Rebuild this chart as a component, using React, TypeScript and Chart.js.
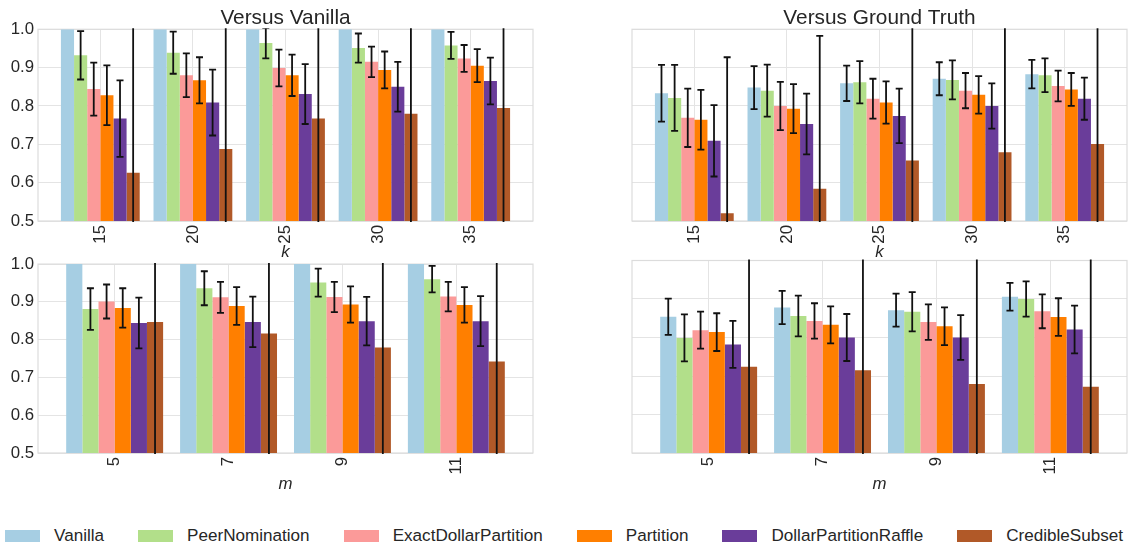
import React, { useEffect, useRef } from 'react';
import { Chart, registerables } from 'chart.js';

Chart.register(...registerables);

// ---------- data ----------
const kCategories = ['15', '20', '25', '30', '35'];
const mCategories = ['5', '7', '9', '11'];
const methodNames = ['Vanilla', 'PeerNomination', 'ExactDollarPartition', 'Partition', 'DollarPartitionRaffle', 'CredibleSubset'];
const methodColors = ['#a6cee3', '#b2df8a', '#fb9a99', '#ff7f00', '#6a3d9a', '#b15928'];
const yTickValues = [0.5, 0.6, 0.7, 0.8, 0.9, 1.0];

// Versus Vanilla, by k (rows = methods)
const kVanillaMeans = [
  [1.0, 1.0, 1.0, 1.0, 1.0],
  [0.932, 0.939, 0.964, 0.951, 0.958],
  [0.844, 0.880, 0.899, 0.915, 0.924],
  [0.828, 0.867, 0.880, 0.894, 0.905],
  [0.767, 0.809, 0.831, 0.850, 0.865],
  [0.626, 0.688, 0.767, 0.780, 0.795],
];
const kVanillaErrs = [
  [0, 0, 0, 0, 0],
  [0.063, 0.055, 0.040, 0.038, 0.035],
  [0.069, 0.057, 0.048, 0.040, 0.035],
  [0.078, 0.060, 0.054, 0.048, 0.043],
  [0.100, 0.086, 0.078, 0.065, 0.061],
  [0.46, 0.44, 0.41, 0.40, 0.38],
];

// Versus Ground Truth, by k
const kTruthMeans = [
  [0.833, 0.848, 0.859, 0.871, 0.883],
  [0.821, 0.840, 0.862, 0.868, 0.880],
  [0.769, 0.800, 0.819, 0.840, 0.852],
  [0.764, 0.793, 0.809, 0.829, 0.843],
  [0.709, 0.753, 0.774, 0.800, 0.819],
  [0.520, 0.584, 0.658, 0.679, 0.701],
];
const kTruthErrs = [
  [0.074, 0.056, 0.046, 0.043, 0.037],
  [0.086, 0.068, 0.055, 0.051, 0.044],
  [0.076, 0.063, 0.052, 0.046, 0.040],
  [0.078, 0.064, 0.055, 0.049, 0.043],
  [0.093, 0.079, 0.071, 0.059, 0.055],
  [0.407, 0.399, 0.40, 0.39, 0.38],
];

// Versus Vanilla, by m
const mVanillaMeans = [
  [1.0, 1.0, 1.0, 1.0],
  [0.881, 0.936, 0.951, 0.960],
  [0.901, 0.912, 0.913, 0.914],
  [0.884, 0.889, 0.893, 0.892],
  [0.844, 0.847, 0.849, 0.849],
  [0.847, 0.816, 0.779, 0.742],
];
const mVanillaErrs = [
  [0, 0, 0, 0],
  [0.055, 0.045, 0.037, 0.035],
  [0.045, 0.041, 0.040, 0.039],
  [0.052, 0.050, 0.048, 0.047],
  [0.067, 0.067, 0.064, 0.066],
  [0.40, 0.41, 0.42, 0.43],
];

// Versus Ground Truth, by m
const mTruthMeans = [
  [0.854, 0.878, 0.871, 0.906],
  [0.799, 0.856, 0.867, 0.900],
  [0.819, 0.843, 0.840, 0.868],
  [0.814, 0.833, 0.829, 0.853],
  [0.782, 0.800, 0.800, 0.821],
  [0.724, 0.715, 0.679, 0.672],
];
const mTruthErrs = [
  [0.047, 0.043, 0.043, 0.036],
  [0.061, 0.053, 0.051, 0.046],
  [0.048, 0.046, 0.046, 0.044],
  [0.049, 0.048, 0.049, 0.049],
  [0.061, 0.061, 0.058, 0.062],
  [0.39, 0.40, 0.41, 0.42],
];

// ---------- styling ----------
const FONT = "'Liberation Sans', Arial, Helvetica, sans-serif";
const TEXT = '#262626';
const GRID = '#e4e4e4';
const FRAME = '#dcdcdc';
const TICK_SIZE = 16.8;

Chart.defaults.font.family = FONT;
Chart.defaults.color = TEXT;

const framePlugin = {
  id: 'frame',
  beforeDatasetsDraw(chart: any) {
    const { ctx, chartArea: a } = chart;
    ctx.save();
    ctx.strokeStyle = FRAME;
    ctx.lineWidth = 1.2;
    ctx.strokeRect(a.left, a.top, a.right - a.left, a.bottom - a.top);
    ctx.restore();
  },
};

const errorBarPlugin = {
  id: 'errorBars',
  afterDatasetsDraw(chart: any) {
    const { ctx, chartArea: a } = chart;
    const yScale = chart.scales.y;
    ctx.save();
    ctx.beginPath();
    ctx.rect(a.left, a.top - 1, a.right - a.left, a.bottom - a.top + 2);
    ctx.clip();
    ctx.strokeStyle = '#111111';
    ctx.lineWidth = 1.8;
    ctx.lineCap = 'butt';
    chart.data.datasets.forEach((ds: any, di: number) => {
      const errs: number[] | undefined = ds.errors;
      if (!errs) return;
      const meta = chart.getDatasetMeta(di);
      meta.data.forEach((bar: any, i: number) => {
        const e = errs[i];
        if (!e) return;
        const v = ds.data[i].y;
        const x = bar.x;
        const yTop = yScale.getPixelForValue(v + e);
        const yBot = yScale.getPixelForValue(v - e);
        ctx.beginPath();
        ctx.moveTo(x, yTop);
        ctx.lineTo(x, yBot);
        ctx.moveTo(x - 3.5, yTop);
        ctx.lineTo(x + 3.5, yTop);
        ctx.moveTo(x - 3.5, yBot);
        ctx.lineTo(x + 3.5, yBot);
        ctx.stroke();
      });
    });
    ctx.restore();
  },
};

type PanelProps = {
  left: number;
  top: number;
  width: number;
  height: number;
  categories: string[];
  means: number[][];
  errs: number[][];
  title?: string;
  xTitle: string;
  showYLabels: boolean;
  yAxisWidth: number;
  padTop: number;
  padRight: number;
};

function Panel(p: PanelProps) {
  const ref = useRef<HTMLCanvasElement | null>(null);
  useEffect(() => {
    if (!ref.current) return;
    const cats = p.categories;
    const margin = 0.673;
    const datasets = methodNames.map((name, mi) => ({
      label: name,
      data: cats.map((_, ci) => ({ x: ci, y: p.means[mi][ci] })),
      errors: p.errs[mi],
      backgroundColor: methodColors[mi],
      borderWidth: 0,
      categoryPercentage: 0.851,
      barPercentage: 1.0,
    }));
    const chart = new Chart(ref.current, {
      type: 'bar',
      data: { datasets } as any,
      plugins: [framePlugin, errorBarPlugin],
      options: {
        animation: false,
        responsive: false,
        maintainAspectRatio: false,
        events: [],
        layout: { padding: { left: 0, right: p.padRight, top: p.padTop, bottom: 0 } },
        plugins: {
          legend: { display: false },
          tooltip: { enabled: false },
          title: {
            display: !!p.title,
            text: p.title || '',
            fullSize: false,
            color: TEXT,
            font: { size: 20.8, weight: 'normal', family: FONT, lineHeight: 1.1 },
            padding: { top: 6.4, bottom: 0 },
          },
        },
        scales: {
          x: {
            type: 'linear',
            offset: false,
            min: -margin,
            max: cats.length - 1 + margin,
            afterBuildTicks: (axis: any) => {
              axis.ticks = cats.map((_, i) => ({ value: i }));
            },
            afterFit: (axis: any) => {
              axis.height = 41;
            },
            grid: { color: GRID, lineWidth: 1, drawTicks: false, offset: false },
            border: { display: false },
            ticks: {
              autoSkip: false,
              minRotation: 90,
              maxRotation: 90,
              padding: 4,
              color: TEXT,
              font: { size: TICK_SIZE, family: FONT },
              callback: (value: any) => cats[Math.round(Number(value))] ?? '',
            },
            title: {
              display: true,
              text: p.xTitle,
              color: TEXT,
              font: { size: TICK_SIZE, style: 'italic', family: FONT, lineHeight: 1.2 },
              padding: { top: 0, bottom: 0 },
            },
          },
          y: {
            type: 'linear',
            min: 0.5,
            max: 1.0,
            afterBuildTicks: (axis: any) => {
              axis.ticks = yTickValues.map((v) => ({ value: v }));
            },
            afterFit: (axis: any) => {
              axis.width = p.yAxisWidth;
            },
            grid: { color: GRID, lineWidth: 1, drawTicks: false },
            border: { display: false },
            ticks: {
              display: p.showYLabels,
              padding: 4,
              color: TEXT,
              font: { size: TICK_SIZE, family: FONT },
              callback: (value: any) => Number(value).toFixed(1),
            },
          },
        },
      } as any,
    });
    return () => chart.destroy();
  }, []);
  return (
    <canvas
      ref={ref}
      width={p.width}
      height={p.height}
      style={{ position: 'absolute', left: p.left, top: p.top, width: p.width, height: p.height }}
    />
  );
}

export default function App() {
  return (
    <div style={{ position: 'absolute', left: 0, top: 0, width: 1129, height: 544, background: '#ffffff', overflow: 'hidden' }}>
      <Panel left={0} top={0} width={566} height={262} categories={kCategories} means={kVanillaMeans} errs={kVanillaErrs}
        title="Versus Vanilla" xTitle="k" showYLabels={true} yAxisWidth={38} padTop={0} padRight={33} />
      <Panel left={566} top={0} width={563} height={262} categories={kCategories} means={kTruthMeans} errs={kTruthErrs}
        title="Versus Ground Truth" xTitle="k" showYLabels={false} yAxisWidth={66} padTop={0} padRight={2} />
      <Panel left={0} top={250} width={566} height={244} categories={mCategories} means={mVanillaMeans} errs={mVanillaErrs}
        xTitle="m" showYLabels={true} yAxisWidth={38} padTop={10.5} padRight={33} />
      <Panel left={566} top={250} width={563} height={244} categories={mCategories} means={mTruthMeans} errs={mTruthErrs}
        xTitle="m" showYLabels={false} yAxisWidth={66} padTop={10.5} padRight={2} />
      <div
        style={{
          position: 'absolute',
          left: 5,
          top: 525.5,
          height: 20,
          display: 'flex',
          alignItems: 'center',
          gap: 34,
          fontFamily: FONT,
          fontSize: 17.1,
          color: TEXT,
          whiteSpace: 'nowrap',
        }}
      >
        {methodNames.map((name, i) => (
          <div key={name} style={{ display: 'flex', alignItems: 'center' }}>
            <span style={{ display: 'inline-block', width: 35, height: 12, background: methodColors[i] }} />
            <span style={{ marginLeft: 14, lineHeight: '20px' }}>{name}</span>
          </div>
        ))}
      </div>
    </div>
  );
}
